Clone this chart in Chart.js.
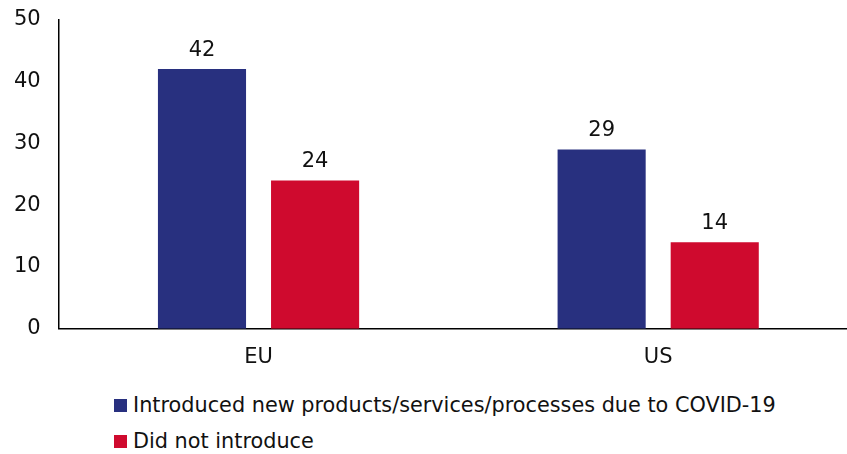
<!DOCTYPE html>
<html>
<head>
<meta charset="utf-8">
<script src="https://cdn.jsdelivr.net/npm/chart.js@4"></script>
<style>
    html, body { margin: 0; padding: 0; background: #fff; overflow: hidden; }
    #wrap { position: relative; width: 862px; height: 397px; margin-left: -4px; margin-top: -11px; }
    #legend { position: absolute; left: 114px; top: 387px; font-family: "DejaVu Sans", sans-serif; font-size: 20.8px; color: #111; }
    #legend .item { height: 36px; display: flex; align-items: center; }
    #legend .box { width: 13px; height: 13px; margin-right: 6px; }
</style>
</head>
<body>
<div id="wrap"><canvas id="BarChart"></canvas></div>
<div id="legend"></div>
<script>
(function () {
    "use strict";

    // Colors
    const blue = "#28307f";
    const red = "#cf0a2e";

    // Data
    const categories = ["EU", "US"];
    const introduced = [42, 29];
    const notIntroduced = [24, 14];
    const seriesNames = [
        "Introduced new products/services/processes due to COVID-19",
        "Did not introduce",
    ];
    const yTicks = [0, 10, 20, 30, 40, 50];

    // value labels above the bars
    const valueLabels = {
        id: "valueLabels",
        afterDatasetsDraw(chart) {
            const ctx = chart.ctx;
            ctx.save();
            ctx.font = "21px 'DejaVu Sans'";
            ctx.fillStyle = "#111";
            ctx.textAlign = "center";
            ctx.textBaseline = "alphabetic";
            chart.data.datasets.forEach(function (ds, i) {
                chart.getDatasetMeta(i).data.forEach(function (bar, j) {
                    ctx.fillText(ds.data[j], bar.x, bar.y - 13);
                });
            });
            ctx.restore();
        },
    };

    Chart.defaults.font.family = "'DejaVu Sans', sans-serif";
    Chart.defaults.font.size = 21;
    Chart.defaults.color = "#111";

    const ctb = document.getElementById("BarChart").getContext("2d");
    const BarChart = new Chart(ctb, {
        type: "bar",
        data: {
            labels: categories,
            datasets: [
                {
                    label: seriesNames[0],
                    data: introduced,
                    backgroundColor: blue,
                },
                {
                    label: seriesNames[1],
                    data: notIntroduced,
                    backgroundColor: red,
                },
            ],
        },
        options: {
            responsive: true,
            maintainAspectRatio: false,
            animation: false,
            categoryPercentage: 0.566,
            barPercentage: 0.779,
            scales: {
                x: {
                    grid: { display: false, drawTicks: false },
                    border: { color: "#000", width: 1.5 },
                    ticks: { padding: 16 },
                },
                y: {
                    min: 0,
                    max: 50,
                    afterBuildTicks: function (axis) {
                        axis.ticks = yTicks.map(function (v) { return { value: v }; });
                    },
                    grid: { display: false, drawTicks: false },
                    border: { color: "#000", width: 1.5 },
                    ticks: { padding: 18 },
                },
            },
            plugins: {
                legend: { display: false },
                tooltip: { enabled: false },
            },
        },
        plugins: [valueLabels],
    });

    // legend
    const legend = document.getElementById("legend");
    BarChart.data.datasets.forEach(function (ds) {
        const item = document.createElement("div");
        item.className = "item";
        const box = document.createElement("span");
        box.className = "box";
        box.style.background = ds.backgroundColor;
        const txt = document.createElement("span");
        txt.textContent = ds.label;
        item.appendChild(box);
        item.appendChild(txt);
        legend.appendChild(item);
    });
})();
</script>
</body>
</html>
